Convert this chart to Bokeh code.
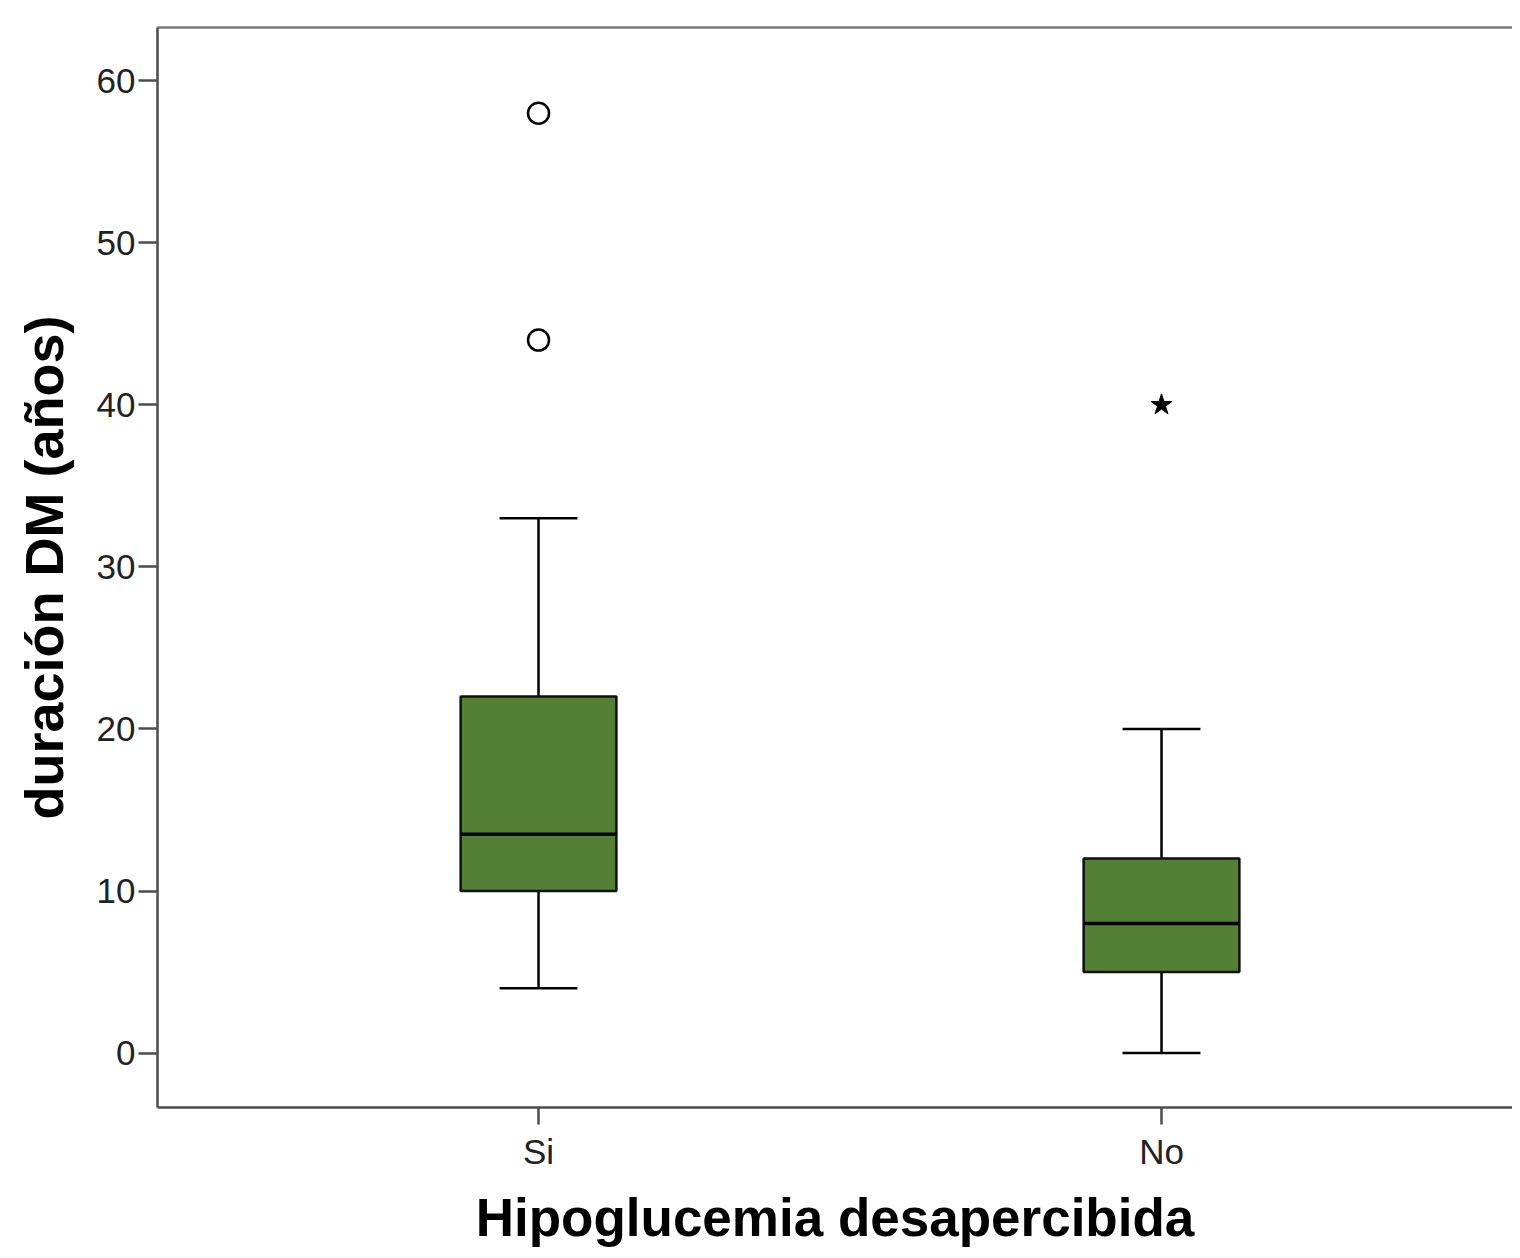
from bokeh.plotting import figure
from bokeh.models import Range1d, FixedTicker, LinearAxis, ColumnDataSource
from bokeh.embed import file_html
from bokeh.resources import INLINE

# ---- data ----
categories = ["Si", "No"]
positions = [1, 2]
q1 = [10, 5]
median = [13.5, 8]
q3 = [22, 12]
lower_whisker = [4, 0]
upper_whisker = [33, 20]
outlier_pos = [1, 1]
outlier_vals = [58, 44]
extreme_pos = [2]
extreme_vals = [40]
y_ticks = [0, 10, 20, 30, 40, 50, 60]

BOX_W = 0.25
CAP_W = 0.125
FILL = "#538034"

src = ColumnDataSource(dict(
    x=positions, q1=q1, med=median, q3=q3, lo=lower_whisker, hi=upper_whisker,
    bl=[x - BOX_W / 2 for x in positions], br=[x + BOX_W / 2 for x in positions],
    cl=[x - CAP_W / 2 for x in positions], cr=[x + CAP_W / 2 for x in positions],
))

p = figure(width=1512, height=1250, output_backend="svg", toolbar_location=None,
           x_range=Range1d(0.3884, 2.5634), y_range=Range1d(-3.36, 63.29),
           min_border_left=157, min_border_right=0, min_border_top=27,
           min_border_bottom=143)
p.outline_line_color = None
p.xgrid.visible = False
p.ygrid.visible = False

# whiskers
p.segment(x0="x", y0="q3", x1="x", y1="hi", source=src, line_color="black", line_width=2.5)
p.segment(x0="x", y0="lo", x1="x", y1="q1", source=src, line_color="black", line_width=2.5)
p.segment(x0="cl", y0="hi", x1="cr", y1="hi", source=src, line_color="black", line_width=2.5)
p.segment(x0="cl", y0="lo", x1="cr", y1="lo", source=src, line_color="black", line_width=2.5)
# boxes
p.vbar(x="x", width=BOX_W, bottom="q1", top="q3", source=src,
       fill_color=FILL, line_color="#111111", line_width=2.5)
p.segment(x0="bl", y0="med", x1="br", y1="med", source=src, line_color="black", line_width=3.5)
# outliers
p.scatter(outlier_pos, outlier_vals, marker="circle", size=21, fill_color=None,
          line_color="black", line_width=2.5)
p.scatter(extreme_pos, extreme_vals, marker="star", size=22, fill_color="black",
          line_color="black", line_width=1)

AX_COL = "#4d4d4d"
TICK_FONT = "Liberation Sans"

# y axis
ya = p.yaxis[0]
ya.ticker = FixedTicker(ticks=y_ticks)
ya.minor_tick_line_color = None
ya.major_tick_out = 19
ya.major_tick_in = 0
ya.axis_line_color = AX_COL
ya.axis_line_width = 2.5
ya.major_tick_line_color = AX_COL
ya.major_tick_line_width = 2.5
ya.major_label_text_font = TICK_FONT
ya.major_label_text_font_size = "35px"
ya.major_label_text_color = "#222222"
ya.major_label_standoff = 3
ya.axis_label = "duración DM (años)"
ya.axis_label_text_font = "Liberation Sans"
ya.axis_label_text_font_style = "bold"
ya.axis_label_text_font_size = "54px"
ya.axis_label_text_color = "black"
ya.axis_label_standoff = 20

# x axis
xa = p.xaxis[0]
xa.ticker = FixedTicker(ticks=positions)
xa.major_label_overrides = {pos: c for pos, c in zip(positions, categories)}
xa.minor_tick_line_color = None
xa.major_tick_out = 17
xa.major_tick_in = 0
xa.axis_line_color = AX_COL
xa.axis_line_width = 2.5
xa.major_tick_line_color = AX_COL
xa.major_tick_line_width = 2.5
xa.major_label_text_font = TICK_FONT
xa.major_label_text_font_size = "35px"
xa.major_label_text_color = "#222222"
xa.major_label_standoff = 7
xa.axis_label = "Hipoglucemia desapercibida"
xa.axis_label_text_font = "Liberation Sans"
xa.axis_label_text_font_style = "bold"
xa.axis_label_text_font_size = "53px"
xa.axis_label_text_color = "black"
xa.axis_label_standoff = 14

# top border line
top = LinearAxis(ticker=FixedTicker(ticks=[]), major_label_text_font_size="0px",
                 major_tick_out=0, major_tick_in=0, minor_tick_out=0, minor_tick_in=0,
                 axis_line_color="#7a7a7a", axis_line_width=2.5)
p.add_layout(top, "above")

open("out.html", "w").write(file_html(p, INLINE))
